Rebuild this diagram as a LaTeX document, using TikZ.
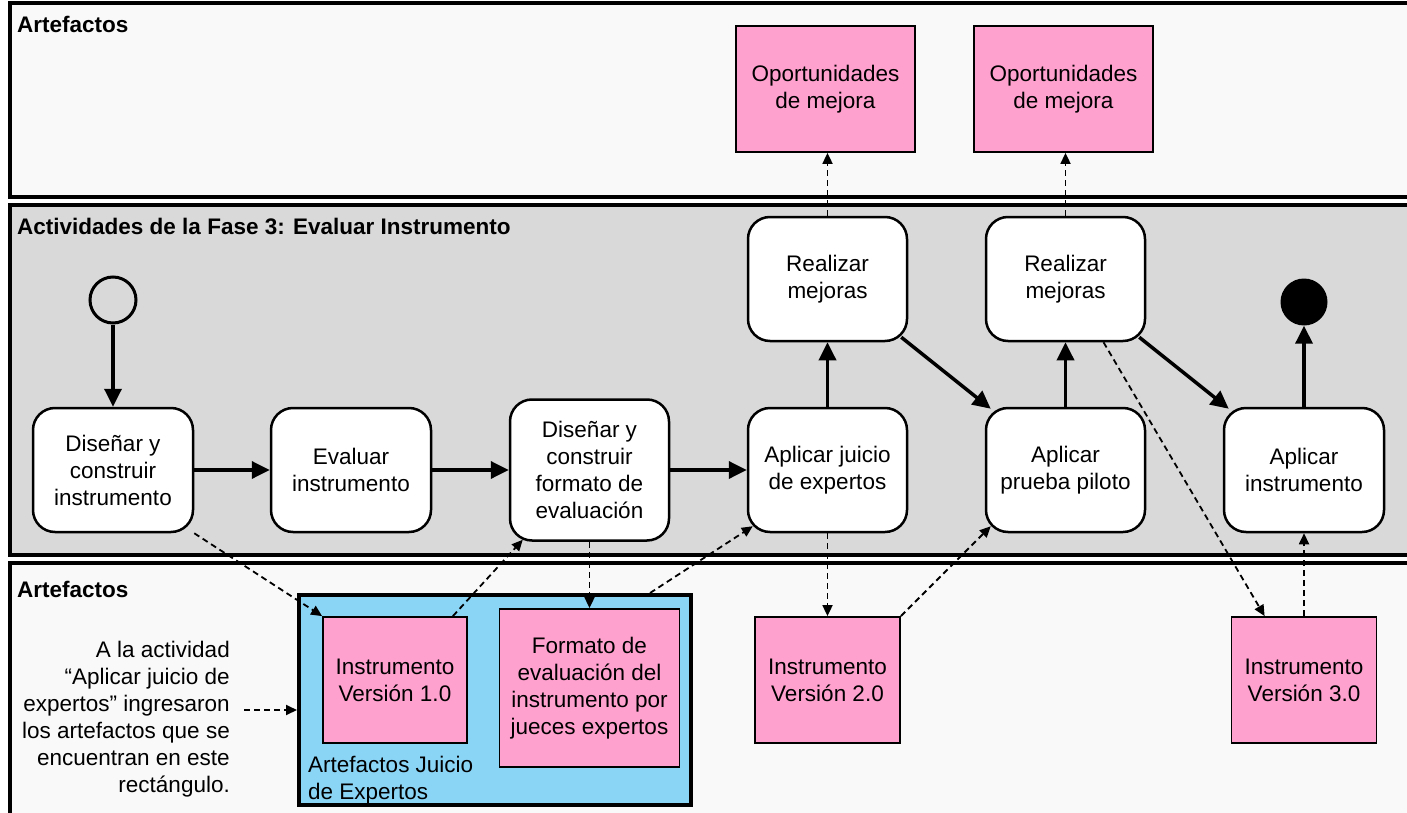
\documentclass[tikz,border=0pt]{standalone}
\usepackage{fontspec}
\setmainfont{Liberation Sans}
\usetikzlibrary{arrows.meta,calc}
\definecolor{pinkart}{HTML}{FFA1CE}
\definecolor{blueart}{HTML}{8AD4F6}
\definecolor{lanegray}{HTML}{D9D9D9}
\definecolor{lanelight}{HTML}{F9F9F9}
\begin{document}
\begin{tikzpicture}[x=1pt,y=-1pt,
  every node/.style={font=\fontsize{22.5}{27}\selectfont},
  act/.style={draw, line width=2.5pt, fill=white, rounded corners=22pt, minimum width=160pt, minimum height=124pt, align=center, inner sep=0pt},
  art/.style={draw, line width=1.8pt, fill=pinkart, align=center, inner sep=0pt, minimum width=145pt, minimum height=126pt},
  lane/.style={draw, line width=4pt},
  flow/.style={line width=3.5pt, -{Triangle[length=18pt,width=17pt]}},
  dep/.style={line width=1.8pt, dash pattern=on 6pt off 4pt, -{Triangle[length=11pt,width=10pt]}},
  lanetitle/.style={font=\bfseries\fontsize{22.5}{27}\selectfont, anchor=base west, inner sep=0pt}
]
\useasboundingbox (0,0) rectangle (1407,813);
\clip (0,0) rectangle (1407,813);
\fill[white] (0,0) rectangle (1407,813);

% lanes
\draw[lane, fill=lanelight] (9.5,3.5) rectangle (1430,197);
\draw[lane, fill=lanegray] (9.5,205) rectangle (1430,554.5);
\draw[lane, fill=lanelight] (9.5,563) rectangle (1430,840);

\node[lanetitle] (t1) at (17,33) {Artefactos};
\node[lanetitle] (t2) at (17,234) {Actividades de la Fase 3: Evaluar Instrumento};
\node[lanetitle] (t3) at (17,597) {Artefactos};

% activities
\node[draw, circle, line width=3pt, minimum size=46pt, inner sep=0pt] (start) at (113,300) {};
\node[circle, fill=black, minimum size=47pt, inner sep=0pt] (finish) at (1304,302) {};

\node[act] (b1) at (113,470) {Diseñar y\\construir\\instrumento};
\node[act] (b2) at (351,470) {Evaluar\\instrumento};
\node[act, minimum width=159pt, minimum height=141pt] (b3) at (589.5,470) {Diseñar y\\construir\\formato de\\evaluación};
\node[act, minimum width=159pt] (b4) at (827.5,470) {Aplicar juicio\\de expertos};
\node[act, minimum width=159pt] (b5) at (827.5,279) {Realizar\\mejoras};
\node[act, minimum width=159pt] (b6) at (1065.5,470) {Aplicar\\prueba piloto};
\node[act, minimum width=159pt] (b7) at (1065.5,279) {Realizar\\mejoras};
\node[act] (b8) at (1304,470) {Aplicar\\instrumento};

% artefacts
\node[art, minimum width=179pt] (opp1) at (825.5,89) {Oportunidades\\de mejora};
\node[art, minimum width=179pt] (opp2) at (1063.5,89) {Oportunidades\\de mejora};

\node[draw, line width=4pt, fill=blueart, minimum width=392pt, minimum height=210pt, inner sep=0pt] (blue) at (495,700) {};
\node[anchor=north west, align=left, inner sep=0pt] (bluelabel) at (308,756) {Artefactos Juicio\\de Expertos};
\node[art, minimum width=144pt] (i1) at (395,680) {Instrumento\\Versión 1.0};
\node[art, minimum width=180pt, minimum height=158pt] (fmt) at (589.5,688) {Formato de\\evaluación del\\instrumento por\\jueces expertos};
\node[art] (i2) at (827.5,680) {Instrumento\\Versión 2.0};
\node[art] (i3) at (1304,680) {Instrumento\\Versión 3.0};

\node[align=right, anchor=north east, inner sep=0pt] (note) at (230,641) {A la actividad\\“Aplicar juicio de\\expertos” ingresaron\\los artefactos que se\\encuentran en este\\rectángulo.};
\coordinate (noteout) at (244,710);

% control flow
\draw[flow] (start) -- (b1);
\draw[flow] (b1.east) -- (b2.west);
\draw[flow] (b2.east) -- (b3.west);
\draw[flow] (b3.east) -- (b4.west);
\draw[flow] (b4) -- (b5);
\draw[flow] ($(b5.south east)+(-7,-5)$) -- ($(b6.north west)+(6,2)$);
\draw[flow] (b6) -- (b7);
\draw[flow] ($(b7.south east)+(-7,-5)$) -- ($(b8.north west)+(6,2)$);
\draw[flow] (b8) -- (finish);

% artefact flow
\draw[dep] (b5.north) -- (b5.north |- opp1.south);
\draw[dep] (b7.north) -- (b7.north |- opp2.south);
\draw[dep] (b1.south east) -- (i1.north west);
\draw[dep] ($(i1.north east)+(-15,0)$) -- ($(b3.south west)+(14,-2)$);
\draw[dep] (b3.south) -- (fmt.north);
\draw[dep] ($(blue.north east)+(-43,0)$) -- ($(b4.south west)+(6,-7)$);
\draw[dep] (b4.south) -- (i2.north);
\draw[dep] (i2.north east) -- ($(b6.south west)+(6,-7)$);
\draw[dep] ($(b7.south)+(38,0)$) -- ($(i3.north west)+(34,0)$);
\draw[dep] (i3.north) -- (b8.south);
\draw[dep] (noteout) -- (noteout -| blue.west);
\end{tikzpicture}
\end{document}
